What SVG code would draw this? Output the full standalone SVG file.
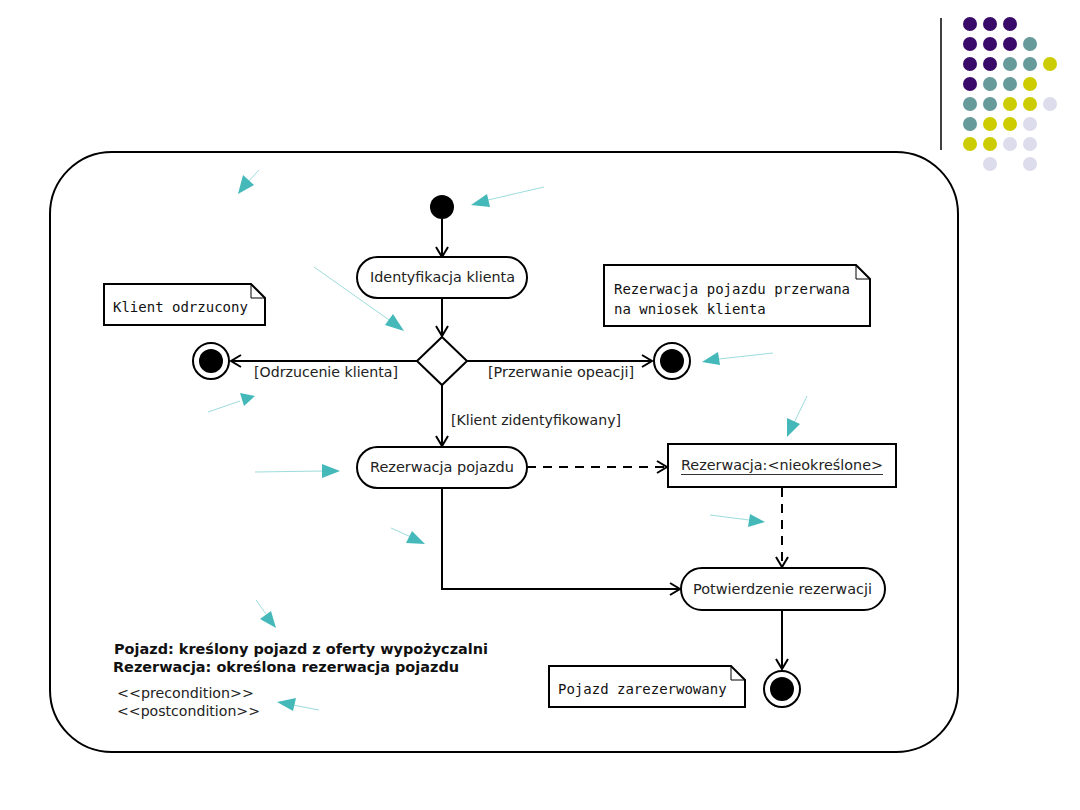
<svg xmlns="http://www.w3.org/2000/svg" width="1080" height="810" viewBox="0 0 1080 810">
<style>
.ln{stroke:#000;stroke-width:2;fill:none}
.dash{stroke:#000;stroke-width:2;fill:none;stroke-dasharray:9,7}
.box{fill:#fff;stroke:#000;stroke-width:2}
.lbl{font-family:"DejaVu Sans",sans-serif;font-size:14px;fill:#222}
.mono{font-family:"DejaVu Sans Mono",monospace;font-size:14px;fill:#111}
.bold{font-family:"DejaVu Sans",sans-serif;font-size:14px;font-weight:bold;fill:#111}
.tl{stroke:#9ddcdc;stroke-width:1;fill:none}
.th{fill:#45b9b9}
.p{fill:#3a0a6a}.t{fill:#679a9a}.y{fill:#cccc00}.v{fill:#dcdcec}
</style>
<defs>
<marker id="open" markerWidth="14" markerHeight="14" refX="11" refY="7" orient="auto" markerUnits="userSpaceOnUse">
<path d="M1,1 L11,7 L1,13" fill="none" stroke="#000" stroke-width="2"/>
</marker>
</defs>
<rect width="1080" height="810" fill="#fff"/>
<!-- decoration -->
<line x1="941" y1="18" x2="941" y2="150" stroke="#000" stroke-width="1.5"/>
<g id="dots">
<circle class="p" cx="970" cy="24" r="7"/><circle class="p" cx="990" cy="24" r="7"/><circle class="p" cx="1010" cy="24" r="7"/>
<circle class="p" cx="970" cy="44" r="7"/><circle class="p" cx="990" cy="44" r="7"/><circle class="p" cx="1010" cy="44" r="7"/><circle class="t" cx="1030" cy="44" r="7"/>
<circle class="p" cx="970" cy="64" r="7"/><circle class="p" cx="990" cy="64" r="7"/><circle class="t" cx="1010" cy="64" r="7"/><circle class="t" cx="1030" cy="64" r="7"/><circle class="y" cx="1050" cy="64" r="7"/>
<circle class="p" cx="970" cy="84" r="7"/><circle class="t" cx="990" cy="84" r="7"/><circle class="t" cx="1010" cy="84" r="7"/><circle class="y" cx="1030" cy="84" r="7"/>
<circle class="t" cx="970" cy="104" r="7"/><circle class="t" cx="990" cy="104" r="7"/><circle class="y" cx="1010" cy="104" r="7"/><circle class="y" cx="1030" cy="104" r="7"/><circle class="v" cx="1050" cy="104" r="7"/>
<circle class="t" cx="970" cy="124" r="7"/><circle class="y" cx="990" cy="124" r="7"/><circle class="y" cx="1010" cy="124" r="7"/><circle class="v" cx="1030" cy="124" r="7"/>
<circle class="y" cx="970" cy="144" r="7"/><circle class="y" cx="990" cy="144" r="7"/><circle class="v" cx="1010" cy="144" r="7"/><circle class="v" cx="1030" cy="144" r="7"/>
<circle class="v" cx="990" cy="164" r="7"/><circle class="v" cx="1030" cy="164" r="7"/>
</g>
<!-- frame -->
<rect x="50" y="152" width="908" height="600" rx="62" ry="62" fill="none" stroke="#000" stroke-width="2"/>
<!-- connectors -->
<g id="connectors">
<line class="ln" x1="442" y1="219" x2="442" y2="257" marker-end="url(#open)"/>
<line class="ln" x1="442" y1="298" x2="442" y2="336" marker-end="url(#open)"/>
<line class="ln" x1="417" y1="361" x2="231" y2="361" marker-end="url(#open)"/>
<line class="ln" x1="467" y1="361" x2="652" y2="361" marker-end="url(#open)"/>
<line class="ln" x1="442" y1="385" x2="442" y2="446" marker-end="url(#open)"/>
<line class="dash" x1="527" y1="467" x2="667" y2="467" marker-end="url(#open)"/>
<line class="dash" x1="782" y1="488" x2="782" y2="567" marker-end="url(#open)"/>
<polyline class="ln" points="442,488 442,589 680,589" marker-end="url(#open)"/>
<line class="ln" x1="782" y1="610" x2="782" y2="669" marker-end="url(#open)"/>
<text class="lbl" x="254" y="377" textLength="144" lengthAdjust="spacingAndGlyphs">[Odrzucenie klienta]</text>
<text class="lbl" x="488" y="377" textLength="146" lengthAdjust="spacingAndGlyphs">[Przerwanie opeacji]</text>
<text class="lbl" x="451" y="425" textLength="170" lengthAdjust="spacingAndGlyphs">[Klient zidentyfikowany]</text>
</g>
<!-- nodes -->
<g id="start"><circle cx="442" cy="207" r="12" fill="#000"/></g>
<g id="identyfikacja">
<rect class="box" x="357" y="257" width="170" height="41" rx="20.5"/>
<text class="lbl" x="370" y="282" textLength="145" lengthAdjust="spacingAndGlyphs">Identyfikacja klienta</text>
</g>
<g id="decision"><polygon class="box" points="442,337 467,361 442,385 417,361"/></g>
<g id="end-odrzucenie"><circle class="box" cx="211" cy="361" r="18"/><circle cx="211" cy="361" r="12" fill="#000"/></g>
<g id="end-przerwanie"><circle class="box" cx="672" cy="361" r="18"/><circle cx="672" cy="361" r="12" fill="#000"/></g>
<g id="rezerwacja">
<rect class="box" x="357" y="447" width="170" height="41" rx="20.5"/>
<text class="lbl" x="370" y="472" textLength="144" lengthAdjust="spacingAndGlyphs">Rezerwacja pojazdu</text>
</g>
<g id="obiekt">
<rect class="box" x="668" y="444" width="228" height="43"/>
<text class="lbl" x="681" y="470" textLength="202" lengthAdjust="spacingAndGlyphs">Rezerwacja:&lt;nieokreślone&gt;</text>
<line x1="681" y1="474.5" x2="883" y2="474.5" stroke="#333" stroke-width="1"/>
</g>
<g id="potwierdzenie">
<rect class="box" x="681" y="568" width="204" height="42" rx="21"/>
<text class="lbl" x="693" y="594" textLength="179" lengthAdjust="spacingAndGlyphs">Potwierdzenie rezerwacji</text>
</g>
<g id="end-final"><circle class="box" cx="782" cy="689" r="18"/><circle cx="782" cy="689" r="12" fill="#000"/></g>
<g id="note-odrzucony">
<path class="box" d="M104,284 H251 L265,298 V325 H104 Z"/>
<path d="M251,284 V298 H265" fill="none" stroke="#000" stroke-width="1"/>
<text class="mono" x="113" y="312">Klient odrzucony</text>
</g>
<g id="note-przerwana">
<path class="box" d="M604,265 H856 L870,279 V326 H604 Z"/>
<path d="M856,265 V279 H870" fill="none" stroke="#000" stroke-width="1"/>
<text class="mono" x="614" y="294">Rezerwacja pojazdu przerwana</text>
<text class="mono" x="614" y="314">na wniosek klienta</text>
</g>
<g id="note-zarezerwowany">
<path class="box" d="M549,666 H731 L745,680 V707 H549 Z"/>
<path d="M731,666 V680 H745" fill="none" stroke="#000" stroke-width="1"/>
<text class="mono" x="558" y="694">Pojazd zarezerwowany</text>
</g>
<g id="opis">
<text class="bold" x="114" y="654" textLength="374" lengthAdjust="spacingAndGlyphs">Pojazd: kreślony pojazd z oferty wypożyczalni</text>
<text class="bold" x="113" y="672" textLength="346" lengthAdjust="spacingAndGlyphs">Rezerwacja: określona rezerwacja pojazdu</text>
<text class="lbl" x="117" y="698" textLength="137" lengthAdjust="spacingAndGlyphs">&lt;&lt;precondition&gt;&gt;</text>
<text class="lbl" x="117" y="716" textLength="143" lengthAdjust="spacingAndGlyphs">&lt;&lt;postcondition&gt;&gt;</text>
</g>
<!-- teal pointers -->
<g id="pointers">
<line class="tl" x1="259" y1="170" x2="246" y2="184"/><polygon class="th" points="238,194 243,175 254,185"/>
<line class="tl" x1="544" y1="187" x2="488" y2="200"/><polygon class="th" points="471,205 487,194 490,207"/>
<line class="tl" x1="314" y1="267" x2="392" y2="322"/><polygon class="th" points="404,331 385,325 393,314"/>
<line class="tl" x1="773" y1="353" x2="719" y2="359"/><polygon class="th" points="702,362 718,352 720,365"/>
<line class="tl" x1="208" y1="412" x2="240" y2="401"/><polygon class="th" points="255,396 240,393 244,406"/>
<line class="tl" x1="807" y1="396" x2="794" y2="423"/><polygon class="th" points="787,437 787,418 800,424"/>
<line class="tl" x1="255" y1="472" x2="323" y2="471"/><polygon class="th" points="340,471 322,464 322,478"/>
<line class="tl" x1="391" y1="528" x2="411" y2="537"/><polygon class="th" points="425,544 406,543 412,531"/>
<line class="tl" x1="710" y1="515" x2="749" y2="520"/><polygon class="th" points="765,522 750,514 748,527"/>
<line class="tl" x1="256" y1="600" x2="266" y2="614"/><polygon class="th" points="276,628 260,619 271,611"/>
<line class="tl" x1="319" y1="710" x2="293" y2="705"/><polygon class="th" points="277,702 296,698 293,711"/>
</g>
</svg>
